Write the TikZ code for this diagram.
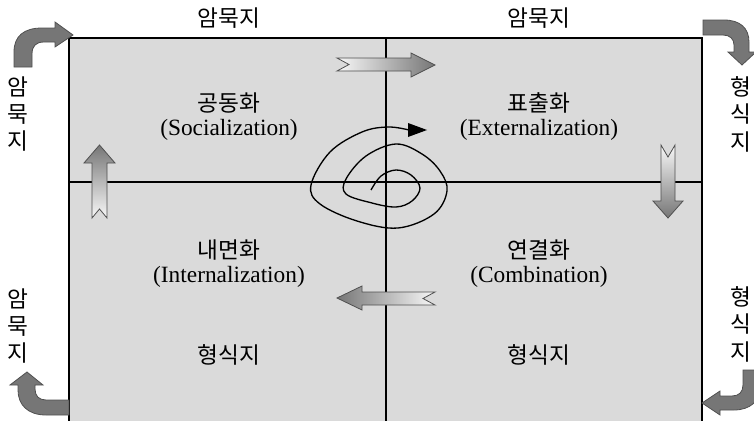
\documentclass[tikz,border=0pt]{standalone}
\usepackage{fontspec}
\setmainfont{Liberation Serif}
\newfontfamily\kr{Noto Sans CJK KR}
\definecolor{quadfill}{RGB}{218,218,218}
\definecolor{bendfill}{RGB}{118,118,118}
\definecolor{bendline}{RGB}{80,80,80}
\definecolor{gradlight}{RGB}{248,248,248}
\definecolor{graddark}{RGB}{118,118,118}
\begin{document}
\begin{tikzpicture}[x=0.75pt,y=-0.75pt,
  lbl/.style={font=\fontsize{17.5}{20}\selectfont, inner sep=0pt},
  krl/.style={font=\kr\fontsize{17}{20}\selectfont, inner sep=0pt},
  vlbl/.style={font=\kr\fontsize{17}{20.6}\selectfont, inner sep=0pt, align=center},
  bendarrow/.style={fill=bendfill, draw=bendline, line width=0.6pt},
  gradarrow/.style={draw=bendline, line width=0.6pt},
  divider/.style={line width=1.1pt},
  spiral/.style={line width=1pt}]
\useasboundingbox (0,0) rectangle (754,421);
% main field
\draw[fill=quadfill, line width=0.8pt] (69,38) rectangle (702,430);
\coordinate (vt) at (386,38);
\coordinate (vb) at (386,430);
\coordinate (hl) at (69,182);
\coordinate (hr) at (702,182);
\draw[divider] (vt) -- (vb);
\draw[divider] (hl) -- (hr);

% top labels
\node[krl] (tl) at (229,18) {암묵지};
\node[krl] (tr) at (539,18) {암묵지};
% side labels
\node[vlbl] (sl1) at (18,114) {암\\묵\\지};
\node[vlbl] (sl2) at (18,326) {암\\묵\\지};
\node[vlbl] (sr1) at (741,114) {형\\식\\지};
\node[vlbl] (sr2) at (741,324) {형\\식\\지};

% quadrant labels
\node[krl] (q1k) at (229,103) {공동화};
\node[lbl] (q1e) at (229,130) {(Socialization)};
\node[krl] (q2k) at (539,103) {표출화};
\node[lbl] (q2e) at (539,130) {(Externalization)};
\node[krl] (q3k) at (229,250) {내면화};
\node[lbl] (q3e) at (229,277) {(Internalization)};
\node[krl] (q4k) at (539,250) {연결화};
\node[lbl] (q4e) at (539,277) {(Combination)};
\node[krl] (b1) at (229,355) {형식지};
\node[krl] (b2) at (539,355) {형식지};

% curved block arrows at the corners
\draw[bendarrow] (14,67) -- (14,52) .. controls (14,36) and (24,28) .. (42,28)
  -- (55,28) -- (55,22) -- (73,35) -- (55,47) -- (55,42) -- (44,42)
  .. controls (36,42) and (32,46) .. (32,54) -- (32,67) -- cycle;
\draw[bendarrow] (703,20) -- (724,20) .. controls (740,20) and (749,28) .. (749,42)
  -- (749,52) -- (756,52) -- (742,65) -- (728,52) -- (734,52) -- (734,45)
  .. controls (734,39) and (730,35) .. (723,35) -- (703,35) -- cycle;
\draw[bendarrow] (69,400) -- (46,400) .. controls (39,400) and (35,396) .. (35,389)
  -- (35,385) -- (43,385) -- (27,372) -- (10,385) -- (18,385) -- (18,390)
  .. controls (18,405) and (28,415) .. (46,415) -- (69,415) -- cycle;
\draw[bendarrow] (760,370) -- (743,370) -- (743,385) .. controls (743,392) and (739,396) .. (732,396)
  -- (720,396) -- (720,391) -- (702,403) -- (720,415) -- (720,410) -- (734,410)
  .. controls (750,410) and (760,401) .. (760,388) -- cycle;

% straight gradient arrows
\shadedraw[gradarrow, left color=gradlight, right color=graddark]
  (337,58) -- (411,58) -- (411,53) -- (435,65) -- (411,77) -- (411,71) -- (337,71) -- (349,64.5) -- cycle;
\shadedraw[gradarrow, left color=graddark, right color=gradlight]
  (337,298) -- (362,286) -- (362,292) -- (435,292) -- (423,298.5) -- (435,305) -- (362,305) -- (362,310) -- cycle;
\shadedraw[gradarrow, top color=gradlight, bottom color=graddark]
  (661,145) -- (668,157) -- (675,145) -- (675,201) -- (683,201) -- (668,218) -- (653,201) -- (661,201) -- cycle;
\shadedraw[gradarrow, top color=graddark, bottom color=gradlight]
  (99.5,145) -- (115,163) -- (107,163) -- (107,218) -- (99.5,209) -- (92,218) -- (92,163) -- (84,163) -- cycle;

% spiral
\draw[spiral] plot[smooth, tension=0.6] coordinates {
  (371,190) (381,176) (396,170) (411,175) (420,188) (412,201) (396,207)
  (372,203) (346,194) (346,179) (366,156) (396,144) (422,154) (440,171)
  (447,191) (434,214) (398,228) (357,221) (320,204) (311,185) (330,152)
  (362,132) (388,127) (409,130)};
\fill (408,123) -- (427,130) -- (408,137) -- cycle;
\end{tikzpicture}
\end{document}
